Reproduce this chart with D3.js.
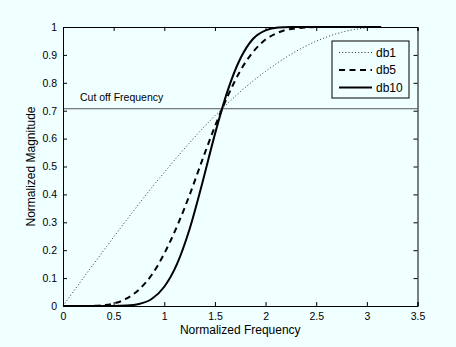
<!DOCTYPE html>
<html>
<head>
<meta charset="utf-8">
<script src="https://cdn.jsdelivr.net/npm/d3@7"></script>
<style>
  html, body { margin: 0; padding: 0; background: #f0ffff; }
  svg { display: block; font-family: "Liberation Sans", Arial, sans-serif; }
</style>
</head>
<body>
<svg id="chart"></svg>
<script>
// values
const freq = [0, 0.25, 0.375, 0.5, 0.625, 0.75, 0.875, 1, 1.125, 1.25, 1.375, 1.5, 1.625, 1.75, 1.875, 2, 2.125, 2.25, 2.5, 2.75, 3, 3.1416];
const db1  = [0, 0.125, 0.186, 0.247, 0.307, 0.366, 0.424, 0.479, 0.533, 0.585, 0.635, 0.682, 0.726, 0.768, 0.806, 0.841, 0.873, 0.902, 0.949, 0.981, 0.997, 1];
const db5  = [0, 0.0003, 0.0024, 0.009, 0.026, 0.059, 0.111, 0.188, 0.285, 0.398, 0.523, 0.644, 0.751, 0.843, 0.910, 0.955, 0.980, 0.993, 0.9996, 1, 1, 1];
const db10 = [0, 0, 0, 0.0002, 0.0015, 0.007, 0.025, 0.069, 0.15, 0.276, 0.44, 0.616, 0.771, 0.886, 0.957, 0.988, 0.998, 0.9996, 1, 1, 1, 1];
const cutoff = 0.707;
const cutoffLabel = "Cut off Frequency";
const xTicks = [0, 0.5, 1, 1.5, 2, 2.5, 3, 3.5];
const yTicks = [0, 0.1, 0.2, 0.3, 0.4, 0.5, 0.6, 0.7, 0.8, 0.9, 1];

const width = 456, height = 347;
const margin = {left: 63, right: 38.5, top: 27, bottom: 41};

const svg = d3.select("#chart").attr("width", width).attr("height", height);
svg.append("rect").attr("width", width).attr("height", height).attr("fill", "#f0ffff");

const x = d3.scaleLinear().domain([0, 3.5]).range([margin.left, width - margin.right]);
const y = d3.scaleLinear().domain([0, 1]).range([height - margin.bottom, margin.top]);

const series = [
    {name: "db1", values: db1, width: 1, color: "#333", dash: "1,2.2"},
    {name: "db5", values: db5, width: 2, color: "#000", dash: "6,4.5"},
    {name: "db10", values: db10, width: 2, color: "#000", dash: null}
];

// cut off line
svg.append("line")
    .attr("x1", x(0)).attr("x2", x(3.5))
    .attr("y1", y(cutoff)).attr("y2", y(cutoff))
    .attr("stroke", "#555").attr("stroke-width", 1);
svg.append("text")
    .attr("x", x(0) + 17).attr("y", y(cutoff) - 8)
    .attr("font-size", 10.5).text(cutoffLabel);

const line = d3.line()
    .x((d, i) => x(freq[i]))
    .y(d => y(d))
    .curve(d3.curveMonotoneX);

series.forEach(s => {
    svg.append("path")
        .datum(s.values)
        .attr("d", line)
        .attr("fill", "none")
        .attr("stroke", s.color)
        .attr("stroke-width", s.width)
        .attr("stroke-dasharray", s.dash);
});

// axes, ticks inward on all four sides
const tick = 4;
svg.append("g").attr("transform", `translate(0,${y(0)})`)
    .call(d3.axisBottom(x).tickValues(xTicks).tickSize(-tick).tickPadding(7).tickFormat(d3.format("")));
svg.append("g").attr("transform", `translate(0,${y(1)})`)
    .call(d3.axisTop(x).tickValues(xTicks).tickSize(-tick).tickFormat(""));
svg.append("g").attr("transform", `translate(${x(0)},0)`)
    .call(d3.axisLeft(y).tickValues(yTicks).tickSize(-tick).tickPadding(6).tickFormat(d3.format("")));
svg.append("g").attr("transform", `translate(${x(3.5)},0)`)
    .call(d3.axisRight(y).tickValues(yTicks).tickSize(-tick).tickFormat(""));

svg.selectAll(".domain").attr("stroke", "#000").attr("stroke-width", 1);
svg.selectAll(".tick line").attr("stroke", "#000");
svg.selectAll(".tick text").attr("font-size", 10.5).attr("fill", "#000")
    .attr("font-family", "Liberation Sans, Arial, sans-serif");

// axis titles
svg.append("text")
    .attr("x", (x(0) + x(3.5)) / 2).attr("y", 334)
    .attr("text-anchor", "middle").attr("font-size", 12)
    .text("Normalized Frequency");
svg.append("text")
    .attr("transform", `translate(35,${(y(0) + y(1)) / 2}) rotate(-90)`)
    .attr("text-anchor", "middle").attr("font-size", 12)
    .text("Normalized Magnitude");

// legend
const lg = svg.append("g");
lg.append("rect")
    .attr("x", 332).attr("y", 41).attr("width", 77).attr("height", 57)
    .attr("fill", "#f0ffff").attr("stroke", "#000").attr("stroke-width", 1);
series.forEach((s, i) => {
    const yy = 52.5 + i * 17.5;
    lg.append("line")
        .attr("x1", 339).attr("x2", 372).attr("y1", yy).attr("y2", yy)
        .attr("stroke", s.color).attr("stroke-width", s.width)
        .attr("stroke-dasharray", s.dash);
    lg.append("text")
        .attr("x", 376).attr("y", yy + 4).attr("font-size", 12)
        .text(s.name);
});
</script>
</body>
</html>
